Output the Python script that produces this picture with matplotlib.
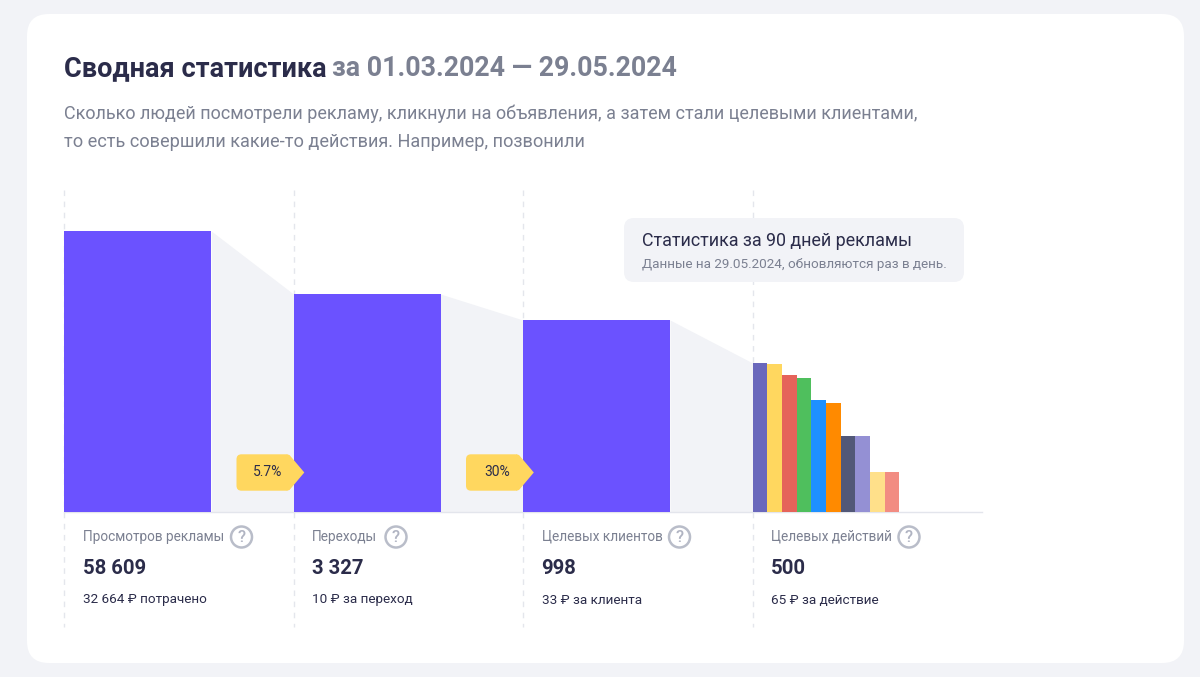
import matplotlib
matplotlib.use('Agg')
import matplotlib.pyplot as plt
from matplotlib.patches import FancyBboxPatch, Polygon, Circle

plt.rcParams['font.family'] = ['Roboto', 'DejaVu Sans']

# bar heights, on the chart's own (log-like) scale
funnel_heights = [281, 218, 192]
action_heights = [149, 148, 137, 134, 112, 109, 76, 76, 40, 40]
action_colors = ['#6a68bc', '#ffd75f', '#e5635a', '#4fbf5d', '#1e90ff',
                 '#ff8a00', '#525878', '#9490d4', '#ffe08a', '#f28c82']

labels = ['Просмотров рекламы', 'Переходы', 'Целевых клиентов', 'Целевых действий']
values = ['58 609', '3 327', '998', '500']
costs = ['32 664 ₽ потрачено', '10 ₽ за переход', '33 ₽ за клиента', '65 ₽ за действие']
rates = ['5.7%', '30%']
help_x = [241.5, 396, 679.5, 909]

col_x = [64.3, 293.5, 523, 752.7]
bar_w = 147
action_w = 14.65
BASE = 512

BLUE = '#6b52ff'
GREY_BG = '#f2f3f7'
DARK = '#2b2c4a'
MUTED = '#7b8091'
YELLOW = '#ffd75f'

fig = plt.figure(figsize=(12, 6.77), dpi=100, facecolor=GREY_BG)

# layout axes in pixels, y going down
bg = fig.add_axes([0, 0, 1, 1])
bg.set_xlim(0, 1200)
bg.set_ylim(677, 0)
bg.axis('off')

bg.add_patch(FancyBboxPatch((27 + 22, 14 + 22), 1157 - 44, 649 - 44,
                            boxstyle='round,pad=22,rounding_size=22',
                            fc='white', ec='none'))

# title
bg.text(64, 68.5, 'Сводная статистика', fontsize=19.5, fontweight='bold', color=DARK, va='center')
bg.text(332, 68.5, 'за 01.03.2024 — 29.05.2024', fontsize=19.3, fontweight='bold', color=MUTED, va='center')
bg.text(64, 114, 'Сколько людей посмотрели рекламу, кликнули на объявления, а затем стали целевыми клиентами,',
        fontsize=13, color=MUTED, va='center')
bg.text(64, 142, 'то есть совершили какие-то действия. Например, позвонили',
        fontsize=13.1, color=MUTED, va='center')

for x in col_x:
    bg.plot([x, x], [190, 627], color='#e4e6ec', lw=1, ls=(0, (4, 4)), zorder=1)

# chart axes: same pixels, baseline at 0
ax = fig.add_axes([0, 0, 1, 1], facecolor='none')
ax.set_xlim(0, 1200)
ax.set_ylim(BASE - 677, BASE)
ax.axis('off')

# grey connectors between the bars
next_tops = funnel_heights[1:] + [action_heights[0]]
for i in range(3):
    ax.fill_between([col_x[i] + bar_w, col_x[i + 1]], [funnel_heights[i], next_tops[i]],
                    0, color=GREY_BG, lw=0, zorder=1)

ax.bar(col_x[:3], funnel_heights, width=bar_w, align='edge', color=BLUE, zorder=2)
action_x = [col_x[3] + i * action_w for i in range(len(action_heights))]
ax.bar(action_x, action_heights, width=action_w, align='edge', color=action_colors, zorder=2)
ax.plot([col_x[0], 982], [0, 0], color='#e3e5ec', lw=1, zorder=1)

# overlay for what sits above the bars
top = fig.add_axes([0, 0, 1, 1], facecolor='none')
top.set_xlim(0, 1200)
top.set_ylim(677, 0)
top.axis('off')

# rate badges
for x, rate in zip(col_x[1:3], rates):
    left = x - 57
    top.add_patch(FancyBboxPatch((left + 5, 459.3), 44, 26.4, boxstyle='round,pad=5,rounding_size=5',
                                 fc=YELLOW, ec='none', zorder=4))
    top.add_patch(Polygon([(left + 50, 454.3), (left + 53, 455), (x + 10.8, 472.5), (left + 53, 490), (left + 50, 490.7)],
                          closed=True, fc=YELLOW, ec='none', zorder=4))
    top.text(left + 31, 472.5, rate, fontsize=10, color=DARK, ha='center', va='center', zorder=5)

# tooltip
top.add_patch(FancyBboxPatch((634, 228), 320, 44, boxstyle='round,pad=10,rounding_size=10',
                             fc=GREY_BG, ec='none', zorder=4))
top.text(642, 241.5, 'Статистика за 90 дней рекламы', fontsize=12.9, color=DARK, va='center', zorder=5)
top.text(642, 264.5, 'Данные на 29.05.2024, обновляются раз в день.', fontsize=9.7, color=MUTED, va='center', zorder=5)

# captions under the columns
for x, lab, val, cost, hx in zip(col_x, labels, values, costs, help_x):
    top.text(x + 18.5, 536.5, lab, fontsize=9.8, color=MUTED, va='center')
    top.text(x + 18.5, 568.5, val, fontsize=14.6, fontweight='bold', color=DARK, va='center')
    top.text(x + 18.5, 600, cost, fontsize=9.7, color=DARK, va='center')
    top.add_patch(Circle((hx, 537), 10.5, fc='white', ec='#b9bdc9', lw=1.8))
    top.text(hx, 537, '?', fontsize=12, color='#b0b4c2', fontweight='medium', ha='center', va='center')

fig.savefig('out.png', dpi=100, facecolor=fig.get_facecolor())
